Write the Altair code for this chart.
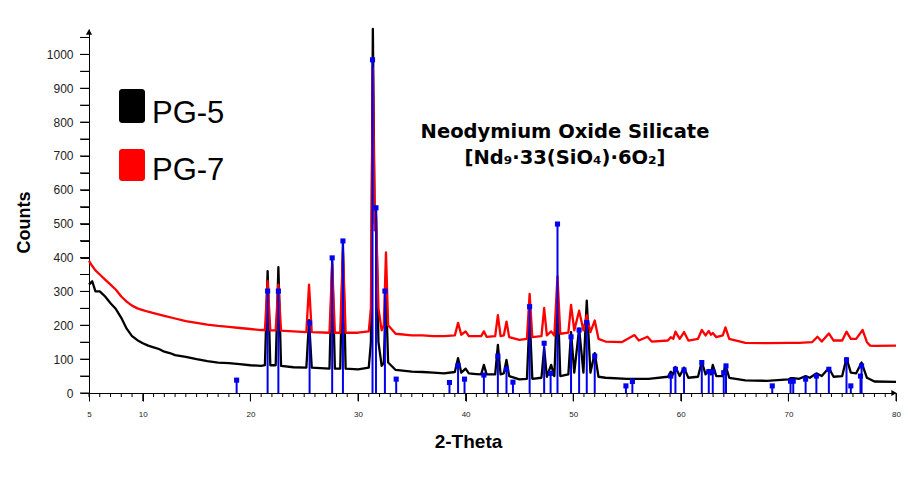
import altair as alt
import pandas as pd

# ---- data ----
series_names = ["PG-5", "PG-7"]
series_colors = ["#000000", "#ff0000"]

pg5_points = [
    (5.0, 320), (5.3, 330), (5.6, 300), (6.0, 300), (6.5, 285), (7.0, 265), (7.5, 248),
    (8.0, 222), (8.5, 190), (9.0, 168), (9.5, 156), (10.0, 147), (10.5, 140), (11.0, 135),
    (11.5, 130), (12.0, 122), (12.5, 118), (13.0, 112), (14.0, 107), (15.0, 100), (16.0, 94),
    (17.0, 90), (18.0, 88), (19.0, 85), (20.0, 82), (21.0, 80), (21.35, 82), (21.6, 360),
    (21.85, 82), (22.35, 82), (22.6, 372), (22.85, 80), (24.0, 76), (25.2, 75), (25.45, 215),
    (25.7, 75), (27.35, 72), (27.6, 390), (27.85, 72), (28.35, 72), (28.6, 440), (28.85, 72),
    (30.0, 70), (31.0, 75), (31.2, 150), (31.38, 1075), (31.55, 500), (31.68, 540), (31.9, 150),
    (32.2, 80), (32.4, 90), (32.6, 300), (32.8, 90), (33.5, 68), (35.0, 63), (36.0, 62),
    (37.0, 60), (38.0, 58), (39.0, 62), (39.3, 103), (39.6, 60), (40.0, 72), (40.3, 58),
    (41.0, 56), (41.45, 55), (41.7, 83), (41.95, 55), (42.75, 55), (43.0, 142), (43.25, 55),
    (43.55, 58), (43.8, 98), (44.05, 50), (45.0, 40), (45.7, 42), (45.95, 230), (46.2, 42),
    (47.05, 45), (47.3, 133), (47.55, 48), (47.95, 83), (48.25, 50), (48.54, 300), (48.8, 50),
    (49.55, 55), (49.8, 180), (50.1, 60), (50.55, 190), (50.95, 60), (51.26, 273), (51.6, 60),
    (52.0, 118), (52.35, 48), (53.0, 45), (55.0, 42), (57.0, 42), (58.8, 48), (59.07, 63),
    (59.3, 55), (59.5, 77), (59.9, 50), (60.3, 75), (60.7, 45), (61.6, 48), (61.95, 93),
    (62.3, 55), (62.6, 68), (62.8, 55), (62.97, 83), (63.3, 50), (63.9, 50), (64.15, 83),
    (64.5, 45), (66.0, 37), (68.0, 36), (70.0, 40), (70.2, 44), (70.45, 44), (71.0, 42),
    (71.6, 50), (72.0, 45), (72.6, 58), (73.1, 50), (73.76, 74), (74.2, 48), (75.0, 50),
    (75.4, 103), (75.8, 60), (76.3, 58), (76.8, 90), (77.3, 45), (78.0, 34), (80.0, 33),
]

pg7_points = [
    (5.0, 390), (5.3, 375), (5.6, 362), (6.0, 350), (6.5, 335), (7.0, 320), (7.5, 305),
    (8.0, 285), (8.5, 270), (9.0, 258), (9.5, 250), (10.0, 245), (10.5, 240), (11.0, 236),
    (12.0, 228), (13.0, 220), (14.0, 212), (15.0, 207), (16.0, 202), (17.0, 198), (18.0, 195),
    (19.0, 192), (20.0, 189), (21.0, 186), (21.35, 186), (21.6, 330), (21.85, 185), (22.35, 185),
    (22.6, 320), (22.85, 184), (24.0, 182), (25.2, 180), (25.45, 320), (25.7, 180), (27.35, 178),
    (27.6, 380), (27.85, 178), (28.35, 178), (28.6, 420), (28.85, 178), (30.0, 178), (31.0, 182),
    (31.2, 250), (31.38, 960), (31.55, 480), (31.68, 520), (31.9, 250), (32.2, 185), (32.4, 200),
    (32.6, 415), (32.8, 200), (33.5, 175), (35.0, 170), (36.0, 170), (37.0, 168), (38.0, 168),
    (39.0, 170), (39.3, 207), (39.6, 172), (40.0, 182), (40.3, 168), (41.0, 168), (41.45, 168),
    (41.7, 182), (41.95, 166), (42.75, 168), (43.0, 230), (43.25, 168), (43.55, 170), (43.8, 211),
    (44.05, 165), (45.0, 157), (45.7, 160), (45.95, 293), (46.2, 165), (47.05, 168), (47.3, 251),
    (47.55, 170), (47.95, 182), (48.25, 170), (48.54, 345), (48.8, 175), (49.55, 178), (49.8, 260),
    (50.1, 185), (50.55, 243), (50.95, 185), (51.26, 230), (51.6, 180), (52.0, 214), (52.35, 160),
    (53.0, 152), (54.5, 150), (55.7, 171), (56.1, 155), (56.9, 166), (57.3, 152), (58.8, 155),
    (59.07, 165), (59.3, 160), (59.5, 181), (59.9, 160), (60.3, 180), (60.7, 155), (61.6, 160),
    (61.95, 186), (62.3, 170), (62.6, 183), (62.8, 172), (62.97, 177), (63.3, 165), (63.9, 170),
    (64.15, 194), (64.5, 160), (66.0, 148), (68.0, 147), (70.0, 148), (71.0, 148), (72.2, 150),
    (72.7, 166), (73.1, 152), (73.76, 176), (74.2, 155), (75.0, 155), (75.4, 181), (75.8, 160),
    (76.3, 160), (76.9, 186), (77.3, 150), (77.6, 140), (78.0, 139), (80.0, 140),
]

ref_points = [
    (18.72, 38), (21.6, 301), (22.6, 301), (25.5, 207), (27.6, 399), (28.6, 449), (31.35, 984),
    (31.67, 547), (32.5, 301), (33.55, 41), (38.5, 31), (39.3, 81), (39.9, 41), (41.7, 53),
    (43.0, 109), (43.8, 70), (44.4, 32), (45.95, 255), (47.3, 147), (47.9, 58), (48.54, 499),
    (49.8, 166), (50.55, 186), (51.26, 208), (52.0, 109), (54.9, 21), (55.5, 34), (59.07, 50),
    (59.5, 70), (60.3, 68), (61.95, 90), (62.6, 63), (62.97, 63), (63.99, 60), (64.2, 80),
    (68.5, 21), (70.2, 35), (70.45, 35), (71.6, 41), (72.6, 50), (73.76, 70), (75.4, 98),
    (75.8, 21), (76.7, 50), (76.8, 80),
]

x_label_values = [5, 10, 20, 30, 40, 50, 60, 70, 80]
x_minor_ticks = [v for v in range(5, 81) if v % 10 != 0]
x_major_ticks = [10, 20, 30, 40, 50, 60, 70, 80]
y_ticks = list(range(0, 1051, 50))
annotation_lines = ["Neodymium Oxide Silicate", "[Nd\u2089\u00b733(SiO\u2084)\u00b76O\u2082]"]

# ---- tables ----
lines_df = pd.concat([
    pd.DataFrame(pg5_points, columns=["theta", "counts"]).assign(series="PG-5"),
    pd.DataFrame(pg7_points, columns=["theta", "counts"]).assign(series="PG-7"),
])
ref_df = pd.DataFrame(ref_points, columns=["theta", "counts"])
minor_df = pd.DataFrame({"theta": x_minor_ticks})
major_df = pd.DataFrame({"theta": x_major_ticks})
ytick_df = pd.DataFrame({"counts": y_ticks})

xs = alt.Scale(domain=[5, 80], nice=False, zero=False)
ys = alt.Scale(domain=[0, 1075], nice=False)
color_scale = alt.Scale(domain=series_names, range=series_colors)

x_axis = alt.Axis(
    orient="bottom", values=x_label_values, tickSize=8, tickColor="black",
    domainColor="black", format="d", labelFont="Liberation Sans", labelFontSize=8,
    labelColor="#222", labelPadding=9, labelFlush=False, labelOverlap=False, grid=False,
    title="2-Theta", titleFont="Liberation Sans", titleFontSize=19,
    titleFontWeight="bold", titleColor="black", titleX=379, titleY=54,
    titleAlign="center", titleBaseline="alphabetic",
)
y_axis = alt.Axis(
    orient="left", values=y_ticks, format="d",
    labelExpr="datum.value % 100 == 0 ? datum.label : ''",
    tickSize=9, tickColor="black", domainColor="black",
    labelFont="Liberation Sans", labelFontSize=12, labelColor="#222",
    labelPadding=7, labelOverlap=False, grid=False,
    title="Counts", titleFont="Liberation Sans", titleFontSize=18,
    titleFontWeight="bold", titleColor="black", titleAngle=270,
    titleX=-60, titleY=193, titleAlign="center", titleBaseline="alphabetic",
)

lines = alt.Chart(lines_df).mark_line(strokeWidth=2.3, strokeJoin="round").encode(
    x=alt.X("theta:Q", scale=xs, axis=x_axis),
    y=alt.Y("counts:Q", scale=ys, axis=y_axis),
    color=alt.Color("series:N", scale=color_scale, legend=None),
    order=alt.Order("theta:Q"),
)

sticks = alt.Chart(ref_df).mark_rule(color="#0000ee", strokeWidth=2).encode(
    x=alt.X("theta:Q", scale=xs, axis=None),
    y=alt.Y("counts:Q", scale=ys, axis=None),
    y2=alt.datum(0),
)
squares = alt.Chart(ref_df).mark_square(color="#0000ee", size=26, opacity=1).encode(
    x=alt.X("theta:Q", scale=xs, axis=None),
    y=alt.Y("counts:Q", scale=ys, axis=None),
)

# tick marks along the axes (drawn through the scales)
minor_x = alt.Chart(minor_df).mark_rule(color="black", strokeWidth=1).encode(
    x=alt.X("theta:Q", scale=xs, axis=None), y=alt.value(364), y2=alt.value(368))
major_x = alt.Chart(major_df).mark_rule(color="black", strokeWidth=1).encode(
    x=alt.X("theta:Q", scale=xs, axis=None), y=alt.value(364), y2=alt.value(372))
y_tick_marks = alt.Chart(ytick_df).mark_rule(color="black", strokeWidth=1).encode(
    y=alt.Y("counts:Q", scale=ys, axis=None), x=alt.value(-9), x2=alt.value(0))

one = pd.DataFrame({"k": [0]})
arrow_up = alt.Chart(one).mark_point(shape="triangle-up", filled=True, color="black", size=38, opacity=1).encode(
    x=alt.value(0), y=alt.value(3))
arrow_right = alt.Chart(one).mark_point(shape="triangle-right", filled=True, color="black", size=38, opacity=1).encode(
    x=alt.value(805), y=alt.value(364))

legend_layers = []
legend_y = [(60, 94), (120, 152)]
text_base = [94, 151]
for i, name in enumerate(series_names):
    d = pd.DataFrame({"name": [name]})
    legend_layers.append(
        alt.Chart(d).mark_rect(cornerRadius=3).encode(
            x=alt.value(30), x2=alt.value(56),
            y=alt.value(legend_y[i][0]), y2=alt.value(legend_y[i][1]),
            color=alt.Color("name:N", scale=color_scale, legend=None),
        )
    )
    legend_layers.append(
        alt.Chart(d).mark_text(align="left", baseline="alphabetic", font="Liberation Sans",
                               fontSize=31, color="black").encode(
            x=alt.value(63), y=alt.value(text_base[i]), text="name:N")
    )

ann_layers = []
ann_y = [109, 135]
for i, line in enumerate(annotation_lines):
    d = pd.DataFrame({"t": [line]})
    ann_layers.append(
        alt.Chart(d).mark_text(align="center", baseline="alphabetic", font="DejaVu Sans",
                               fontWeight="bold", fontSize=19.5, color="black").encode(
            x=alt.value(476), y=alt.value(ann_y[i]), text="t:N")
    )

chart = alt.layer(
    lines, sticks, squares, minor_x, major_x, y_tick_marks, arrow_up, arrow_right,
    *legend_layers, *ann_layers
).resolve_axis(x="independent", y="independent").properties(
    width=807, height=364,
    padding={"left": 89, "top": 29, "right": 12, "bottom": 92},
    autosize=alt.AutoSizeParams(type="none"),
    background="white",
).configure_view(stroke=None)

chart.save("out.html", embed_options={"renderer": "svg", "actions": False})
